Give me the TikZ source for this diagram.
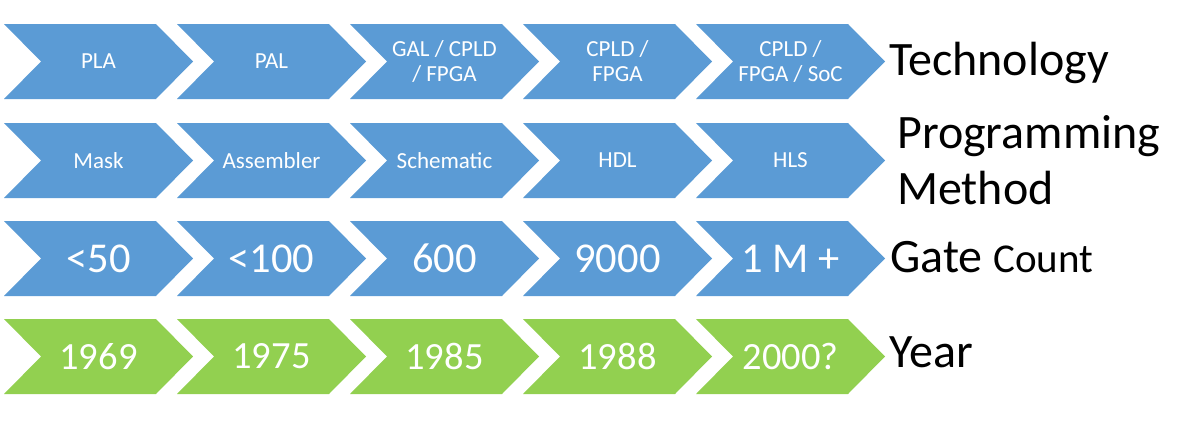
\documentclass[tikz,border=0pt]{standalone}
\usepackage{fontspec}
\setmainfont{Carlito}
\definecolor{cblue}{HTML}{5B9BD5}
\definecolor{cgreen}{HTML}{92D050}
\newcommand{\chevshape}[3]{%
  \fill[#3] (#1,#2) -- ++(152,0) -- ++(37,37.5) -- ++(-37,37.5) -- ++(-152,0) -- ++(37,-37.5) -- cycle;}
\begin{document}
\begin{tikzpicture}[x=1pt,y=-1pt,
  ctext/.style={text=white, inner sep=0pt, align=center},
  small/.style={ctext, font=\fontsize{23}{25}\selectfont},
  big/.style={ctext, font=\fontsize{42.5}{44}\selectfont},
  yr/.style={ctext, font=\fontsize{38.5}{44}\selectfont},
  lbl/.style={anchor=base west, inner sep=0pt, text=black, align=left}]
\useasboundingbox (0,0) rectangle (1200,439);
% rows: tops 24, 123, 221, 319
\foreach \i in {0,...,4}{
  \pgfmathsetmacro{\xx}{4+173*\i}
  \chevshape{\xx}{24}{cblue}
  \chevshape{\xx}{123}{cblue}
  \chevshape{\xx}{221}{cblue}
  \chevshape{\xx}{319}{cgreen}
}
% row 1
\node[small] (t1) at (98.5,61.5) {PLA};
\node[small] (t2) at (271.5,61.5) {PAL};
\node[small] (t3) at (444.5,61.5) {GAL / CPLD\\/ FPGA};
\node[small] (t4) at (617.5,61.5) {CPLD /\\FPGA};
\node[small] (t5) at (790.5,61.5) {CPLD /\\FPGA / SoC};
% row 2
\node[small] (p1) at (98.5,160.5) {Mask};
\node[small] (p2) at (271.5,160.5) {Assembler};
\node[small] (p3) at (444.5,160.5) {Schematic};
\node[small] (p4) at (617.5,160.5) {HDL};
\node[small] (p5) at (790.5,160.5) {HLS};
% row 3
\node[big] (g1) at (98.5,258.5) {<50};
\node[big] (g2) at (271.5,258.5) {<100};
\node[big] (g3) at (444.5,258.5) {600};
\node[big] (g4) at (617.5,258.5) {9000};
\node[big] (g5) at (790.5,258.5) {1 M +};
% row 4
\node[yr] (y1) at (98.5,356.5) {1969};
\node[yr] (y2) at (271.5,356.5) {1975};
\node[yr] (y3) at (444.5,356.5) {1985};
\node[yr] (y4) at (617.5,356.5) {1988};
\node[yr] (y5) at (790.5,356.5) {2000?};
% labels
\node[lbl, font=\fontsize{48}{56}\selectfont] (ltech) at (889,75) {Technology};
\node[lbl, font=\fontsize{48}{56}\selectfont] (lprog) at (897,204) {Programming\\Method};
\node[lbl, font=\fontsize{48}{56}\selectfont] (lgate) at (890,272) {Gate {\fontsize{41}{44}\selectfont Count}};
\node[lbl, font=\fontsize{48}{56}\selectfont] (lyear) at (889,367) {Year};
\end{tikzpicture}
\end{document}
